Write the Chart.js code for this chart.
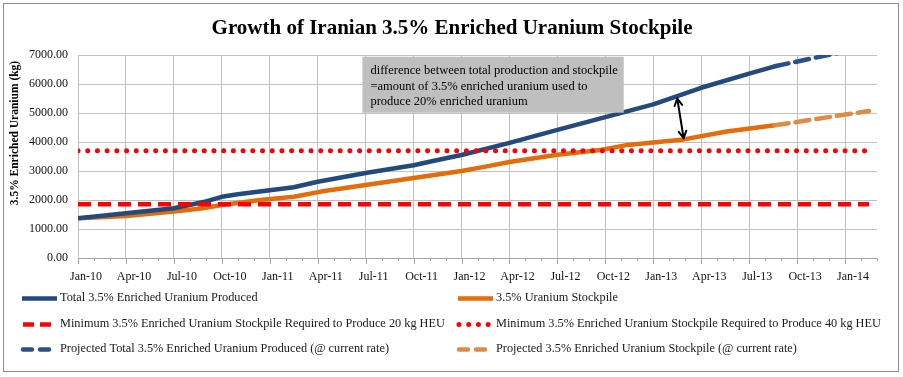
<!DOCTYPE html>
<html><head><meta charset="utf-8">
<script src="https://cdn.jsdelivr.net/npm/chart.js@4"></script>
<style>
html,body{margin:0;padding:0;background:#fff;}
canvas{display:block}
</style></head><body>
<canvas id="c" width="903" height="377"></canvas>
<script>
// ---------------- DATA ----------------
const chartTitle = 'Growth of Iranian 3.5% Enriched Uranium Stockpile';
const yAxisTitle = '3.5% Enriched Uranium (kg)';
// tick labels every 3 months, starting Jan-10 (month 0)
const tickLabels = ['Jan-10','Apr-10','Jul-10','Oct-10','Jan-11','Apr-11','Jul-11','Oct-11','Jan-12','Apr-12','Jul-12','Oct-12','Jan-13','Apr-13','Jul-13','Oct-13','Jan-14'];
// x positions are months since Jan-10
const producedMonths = [0, 3, 6, 8, 9, 10, 13.5, 15, 18, 21, 22.5, 24, 27, 30, 33, 36, 39, 42, 43.6];
const producedKg     = [1370, 1540, 1715, 1950, 2110, 2200, 2440, 2630, 2930, 3200, 3380, 3550, 3970, 4420, 4860, 5300, 5870, 6360, 6610];
const stockMonths    = [0, 3, 6, 7.7, 9, 11.4, 13.5, 15.2, 18, 21, 24, 25.5, 27, 30, 32.7, 34.4, 37.9, 40.6, 43.6];
const stockKg        = [1370, 1450, 1600, 1710, 1830, 2000, 2115, 2290, 2520, 2760, 3000, 3150, 3310, 3560, 3724, 3900, 4090, 4360, 4575];
const projProducedMonths = [43.6, 49.5];
const projProducedKg     = [6610, 7300];
const projStockMonths    = [43.6, 49.5];
const projStockKg        = [4575, 5070];
const thresholdMonths = [0, 49.5];
const min20Kg = [1850, 1850];
const min40Kg = [3700, 3700];
const noteLines = ['difference between total production and stockpile', '=amount of 3.5% enriched uranium used to', 'produce 20% enriched uranium'];
const noteBox = {x1: 17.8, x2: 34.15, y1: 6940, y2: 5010};
const arrowFrom = {x: 37.5, y: 5500};
const arrowTo   = {x: 37.9, y: 4130};
const labels = {
  produced: 'Total 3.5% Enriched Uranium Produced',
  stock: '3.5% Uranium Stockpile',
  min20: 'Minimum 3.5% Enriched Uranium Stockpile Required to Produce 20 kg HEU',
  min40: 'Minimum 3.5% Enriched Uranium Stockpile Required to Produce 40 kg HEU',
  projProduced: 'Projected Total 3.5% Enriched Uranium Produced (@ current rate)',
  projStock: 'Projected 3.5% Enriched Uranium Stockpile (@ current rate)'
};

const FONT = "'Liberation Serif', 'Times New Roman', serif";
const pts = (xs, ys) => xs.map((x, i) => ({x, y: ys[i]}));

const BLUE = '#244a7c', ORANGE = '#e46c0a', RED = '#ff0000', PBLUE = '#29508a', PORANGE = '#df8a45';

const datasets = [
  {label: labels.min20, data: pts(thresholdMonths, min20Kg), borderColor: RED, borderWidth: 4.5, borderDash: [13, 7], borderCapStyle: 'butt', legendDash: [11, 6]},
  {label: labels.min40, data: pts(thresholdMonths, min40Kg), borderColor: RED, borderWidth: 5, borderDash: [0.01, 9.7], borderCapStyle: 'round', legendDash: [0.01, 9.7]},
  {label: labels.projProduced, data: pts(projProducedMonths, projProducedKg), borderColor: PBLUE, borderWidth: 4.5, borderDash: [14, 7], borderCapStyle: 'round', legendDash: [9, 8]},
  {label: labels.projStock, data: pts(projStockMonths, projStockKg), borderColor: PORANGE, borderWidth: 4.5, borderDash: [14, 7], borderCapStyle: 'round', legendDash: [9, 8]},
  {label: labels.produced, data: pts(producedMonths, producedKg), borderColor: BLUE, borderWidth: 4.5, borderCapStyle: 'butt'},
  {label: labels.stock, data: pts(stockMonths, stockKg), borderColor: ORANGE, borderWidth: 4.5, borderCapStyle: 'butt'}
];
datasets.forEach(d => { d.pointRadius = 0; d.tension = 0; d.fill = false; d.borderJoinStyle = 'round'; });

const legendOrder = [
  [labels.produced, labels.stock],
  [labels.min20, labels.min40],
  [labels.projProduced, labels.projStock]
];

const framePlugin = {
  id: 'frame',
  beforeDraw(chart) {
    const c = chart.ctx;
    c.save();
    c.fillStyle = '#fff';
    c.fillRect(0, 0, chart.width, chart.height);
    c.strokeStyle = '#8c8c8c';
    c.lineWidth = 1;
    c.strokeRect(3.5, 3.5, 895, 368);
    c.fillStyle = '#000';
    c.font = 'bold 21px ' + FONT;
    c.textAlign = 'center';
    c.textBaseline = 'alphabetic';
    c.fillText(chartTitle, 452, 34);
    // y axis title
    c.save();
    c.translate(15, 133);
    c.rotate(-Math.PI / 2);
    c.font = 'bold 11.5px ' + FONT;
    c.textBaseline = 'middle';
    c.fillText(yAxisTitle, 0, 0);
    c.restore();
    c.restore();
  }
};

const extrasPlugin = {
  id: 'extras',
  afterDraw(chart) {
    const c = chart.ctx, xs = chart.scales.x, ys = chart.scales.y;
    c.save();
    // minor/major tick marks on x axis
    c.strokeStyle = '#a6a6a6';
    c.lineWidth = 1;
    for (let m = 0; m <= 50; m++) {
      const px = Math.round(xs.getPixelForValue(m)) + 0.5;
      const len = m % 3 === 0 ? 6 : 3;
      c.beginPath(); c.moveTo(px, ys.bottom); c.lineTo(px, ys.bottom + len); c.stroke();
    }
    // note box
    const bx1 = xs.getPixelForValue(noteBox.x1), bx2 = xs.getPixelForValue(noteBox.x2);
    const by1 = ys.getPixelForValue(noteBox.y1), by2 = ys.getPixelForValue(noteBox.y2);
    c.fillStyle = '#bfbfbf';
    c.fillRect(bx1, by1, bx2 - bx1, by2 - by1);
    c.fillStyle = '#000';
    c.font = '12.5px ' + FONT;
    c.textAlign = 'left';
    c.textBaseline = 'middle';
    noteLines.forEach((t, i) => c.fillText(t, bx1 + 8, by1 + 14 + i * 15.5));
    // double arrow
    const ax1 = xs.getPixelForValue(arrowFrom.x), ay1 = ys.getPixelForValue(arrowFrom.y);
    const ax2 = xs.getPixelForValue(arrowTo.x), ay2 = ys.getPixelForValue(arrowTo.y);
    c.strokeStyle = '#000'; c.lineWidth = 2; c.lineCap = 'round'; c.lineJoin = 'round';
    c.beginPath(); c.moveTo(ax1, ay1); c.lineTo(ax2, ay2); c.stroke();
    const head = (tx, ty, fx, fy) => {
      const ang = Math.atan2(ty - fy, tx - fx), L = 8, w = 0.5;
      c.beginPath();
      c.moveTo(tx - L * Math.cos(ang - w), ty - L * Math.sin(ang - w));
      c.lineTo(tx, ty);
      c.lineTo(tx - L * Math.cos(ang + w), ty - L * Math.sin(ang + w));
      c.stroke();
    };
    head(ax1, ay1, ax2, ay2); head(ax2, ay2, ax1, ay1);
    // legend
    const colX = [22, 458], rowY = [298, 324, 349];
    c.font = '12.3px ' + FONT;
    c.textBaseline = 'middle';
    c.fillStyle = '#1a1a1a';
    legendOrder.forEach((row, r) => row.forEach((lab, k) => {
      const ds = datasets.find(d => d.label === lab);
      const x0 = colX[k], y0 = rowY[r];
      c.save();
      c.strokeStyle = ds.borderColor;
      c.lineWidth = ds.borderWidth;
      c.lineCap = ds.borderCapStyle === 'round' ? 'round' : 'butt';
      c.setLineDash(ds.legendDash || []);
      const x1 = ds.legendDash ? x0 + 1 : x0, x2 = x0 + 35;
      c.beginPath(); c.moveTo(x1, y0 + 0.5); c.lineTo(x2, y0 + 0.5); c.stroke();
      c.restore();
      c.fillText(lab, x0 + 38, y0);
    }));
    c.restore();
  }
};

new Chart(document.getElementById('c'), {
  type: 'line',
  data: {datasets},
  options: {
    responsive: false,
    animation: false,
    events: [],
    layout: {padding: {left: 4, right: 26, top: 55, bottom: 89}},
    plugins: {legend: {display: false}, tooltip: {enabled: false}, title: {display: false}},
    scales: {
      x: {
        type: 'linear', min: 0, max: 50,
        afterFit: s => { s.height = 30; },
        border: {display: true, color: '#a6a6a6'},
        grid: {
          drawTicks: false,
          color: ctx => (ctx.tick && ctx.tick.value % 3 === 0 && ctx.tick.value < 50) ? '#c0c0c0' : 'rgba(0,0,0,0)',
          lineWidth: 1
        },
        ticks: {
          stepSize: 1, autoSkip: false, maxRotation: 0, minRotation: 0,
          padding: 12, labelOffset: 8, color: '#111',
          font: {family: FONT, size: 12},
          callback: v => (v % 3 === 0 && tickLabels[v / 3] !== undefined) ? tickLabels[v / 3] : ''
        }
      },
      y: {
        min: 0, max: 7000,
        afterFit: s => { s.width = 74; },
        border: {display: true, color: '#c0c0c0'},
        grid: {drawTicks: false, color: '#c0c0c0'},
        ticks: {stepSize: 1000, padding: 10, color: '#111', font: {family: FONT, size: 12}, callback: v => v.toFixed(2)},
        title: {display: false}
      }
    }
  },
  plugins: [framePlugin, extrasPlugin]
});
</script>
</body></html>
